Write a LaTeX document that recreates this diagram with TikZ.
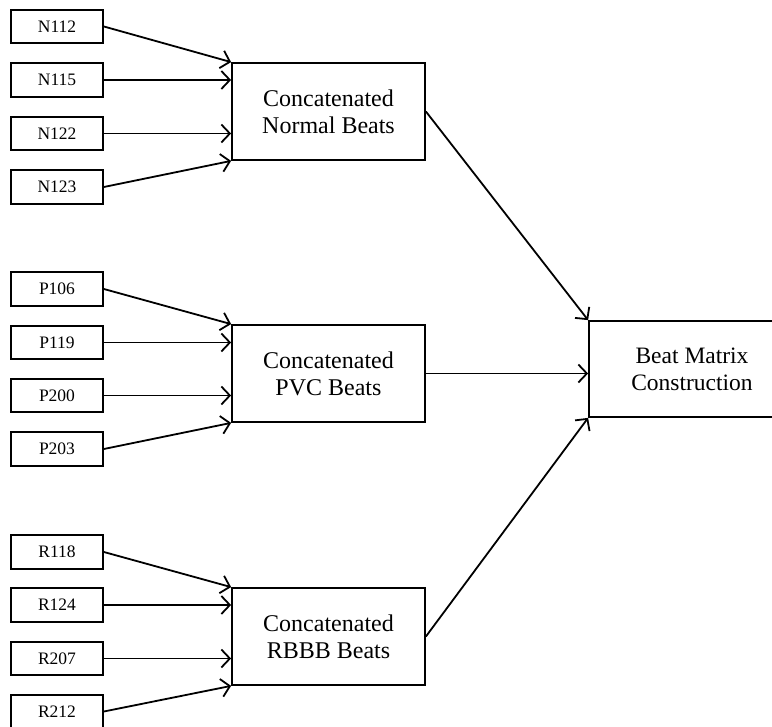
\documentclass[tikz,border=0pt]{standalone}
\usepackage{fontspec}
\setmainfont{Liberation Serif}
\usetikzlibrary{arrows.meta}
\begin{document}
\begin{tikzpicture}[x=1pt,y=-1pt,
  recbox/.style={draw, line width=1.8pt, rectangle, inner sep=0pt,
    minimum width=92pt, minimum height=33.5pt, font=\fontsize{17.5}{20}\selectfont},
  catbox/.style={draw, line width=1.8pt, rectangle, inner sep=0pt, align=center,
    minimum width=193pt, minimum height=97pt, font=\fontsize{24}{27}\selectfont},
  finalbox/.style={draw, line width=1.8pt, rectangle, inner sep=0pt, align=center,
    minimum width=206pt, minimum height=96pt, font=\fontsize{23.5}{27}\selectfont},
  link/.style={line width=1.8pt, -{Straight Barb[length=8.5pt,width=18pt,line width=1.8pt]}}]
  \clip (0,0) rectangle (772,727);

  % record groups
  \node[recbox] (n112) at (57,26.5) {N112};
  \node[recbox] (n115) at (57,80) {N115};
  \node[recbox] (n122) at (57,133.5) {N122};
  \node[recbox] (n123) at (57,187) {N123};

  \node[recbox] (p106) at (57,289) {P106};
  \node[recbox] (p119) at (57,342.5) {P119};
  \node[recbox] (p200) at (57,395.5) {P200};
  \node[recbox] (p203) at (57,449) {P203};

  \node[recbox] (r118) at (57,552) {R118};
  \node[recbox] (r124) at (57,605) {R124};
  \node[recbox] (r207) at (57,658.5) {R207};
  \node[recbox] (r212) at (57,711.5) {R212};

  % concatenation stages
  \node[catbox] (norm) at (328.5,111.5) {Concatenated\\Normal Beats};
  \node[catbox] (pvc)  at (328.5,373.5) {Concatenated\\PVC Beats};
  \node[catbox] (rbbb) at (328.5,636.5) {Concatenated\\RBBB Beats};

  % final stage
  \node[finalbox] (beat) at (692,369) {Beat Matrix\\Construction};

  % inputs to each concatenation box
  \foreach \grp/\a/\b/\c/\d in {norm/n112/n115/n122/n123, pvc/p106/p119/p200/p203, rbbb/r118/r124/r207/r212}{
    \draw[link] (\a.east) -- (\grp.north west);
    \draw[link] (\b.east) -- (\grp.west |- \b.east);
    \draw[link] (\c.east) -- (\grp.west |- \c.east);
    \draw[link] (\d.east) -- (\grp.south west);
  }

  % concatenated beats to the matrix
  \draw[link] (norm.east) -- (beat.north west);
  \draw[link] (pvc.east) -- (beat.west |- pvc.east);
  \draw[link] (rbbb.east) -- (beat.south west);
\end{tikzpicture}
\end{document}
